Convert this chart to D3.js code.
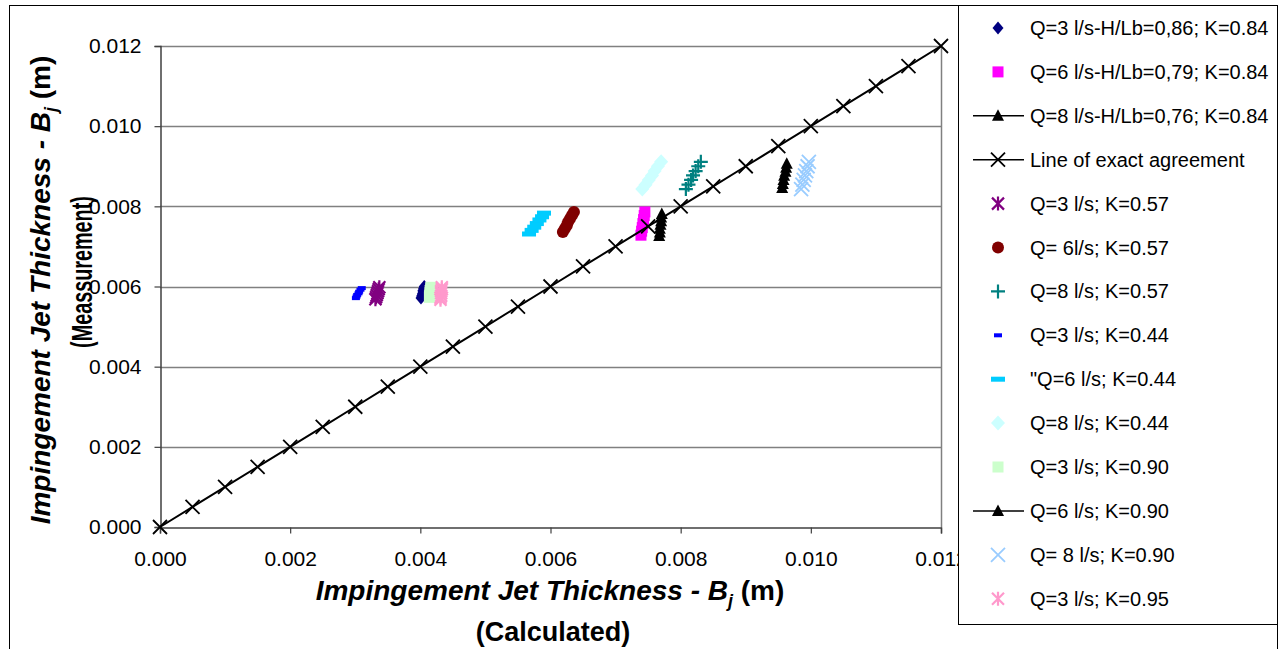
<!DOCTYPE html>
<html>
<head>
<meta charset="utf-8">
<script src="https://cdn.jsdelivr.net/npm/d3@7"></script>
<style>
  body { margin: 0; background: #fff; }
  text { font-family: "Liberation Sans", Arial, sans-serif; }
</style>
</head>
<body>
<div id="chart"></div>
<script>
// values (m)
let xTicks = [0, 0.002, 0.004, 0.006, 0.008, 0.010, 0.012];
let yTicks = [0, 0.002, 0.004, 0.006, 0.008, 0.010, 0.012];

let q3k84x = [0.00401, 0.00402, 0.00403, 0.00404, 0.00404, 0.00405, 0.00406];
let q3k84y = [0.00571, 0.00576, 0.00581, 0.00586, 0.00590, 0.00595, 0.00600];
let q6k84x = [0.00739, 0.00740, 0.00741, 0.00742, 0.00743, 0.00744, 0.00745];
let q6k84y = [0.00728, 0.00738, 0.00747, 0.00757, 0.00767, 0.00777, 0.00786];
let q8k84x = [0.00956, 0.00957, 0.00958, 0.00959, 0.00961, 0.00962, 0.00963];
let q8k84y = [0.00846, 0.00856, 0.00866, 0.00876, 0.00886, 0.00896, 0.00906];
let agreeX = [0, 0.0005, 0.001, 0.0015, 0.002, 0.0025, 0.003, 0.0035, 0.004, 0.0045, 0.005, 0.0055, 0.006,
              0.0065, 0.007, 0.0075, 0.008, 0.0085, 0.009, 0.0095, 0.010, 0.0105, 0.011, 0.0115, 0.012];
let agreeY = [0, 0.0005, 0.001, 0.0015, 0.002, 0.0025, 0.003, 0.0035, 0.004, 0.0045, 0.005, 0.0055, 0.006,
              0.0065, 0.007, 0.0075, 0.008, 0.0085, 0.009, 0.0095, 0.010, 0.0105, 0.011, 0.0115, 0.012];
let q3k57x = [0.00331, 0.00332, 0.00333, 0.00334, 0.00335, 0.00336, 0.00337];
let q3k57y = [0.00568, 0.00573, 0.00578, 0.00583, 0.00588, 0.00593, 0.00598];
let q6k57x = [0.00619, 0.00622, 0.00625, 0.00627, 0.00630, 0.00633, 0.00636];
let q6k57y = [0.00736, 0.00744, 0.00752, 0.00761, 0.00769, 0.00778, 0.00786];
let q8k57x = [0.00808, 0.00812, 0.00816, 0.00819, 0.00823, 0.00827, 0.00831];
let q8k57y = [0.00843, 0.00854, 0.00866, 0.00877, 0.00888, 0.00900, 0.00911];
let q3k44x = [0.00301, 0.00302, 0.00303, 0.00305, 0.00306, 0.00308, 0.00310];
let q3k44y = [0.00571, 0.00575, 0.00579, 0.00583, 0.00587, 0.00592, 0.00596];
let q6k44x = [0.00567, 0.00571, 0.00575, 0.00579, 0.00583, 0.00587, 0.00590];
let q6k44y = [0.00731, 0.00740, 0.00748, 0.00757, 0.00766, 0.00774, 0.00783];
let q8k44x = [0.00741, 0.00746, 0.00751, 0.00756, 0.00760, 0.00765, 0.00770];
let q8k44y = [0.00843, 0.00854, 0.00866, 0.00877, 0.00888, 0.00900, 0.00911];
let q3k90x = [0.00414, 0.00414, 0.00415, 0.00415, 0.00415, 0.00416, 0.00416];
let q3k90y = [0.00573, 0.00577, 0.00581, 0.00585, 0.00590, 0.00594, 0.00598];
let q6k90x = [0.00767, 0.00768, 0.00768, 0.00769, 0.00770, 0.00770, 0.00771];
let q6k90y = [0.00726, 0.00735, 0.00744, 0.00754, 0.00763, 0.00772, 0.00781];
let q8k90x = [0.00985, 0.00987, 0.00989, 0.00991, 0.00993, 0.00995, 0.00997];
let q8k90y = [0.00843, 0.00854, 0.00866, 0.00877, 0.00888, 0.00900, 0.00911];
let q3k95x = [0.00431, 0.00431, 0.00432, 0.00432, 0.00432, 0.00433, 0.00433];
let q3k95y = [0.00567, 0.00572, 0.00577, 0.00583, 0.00588, 0.00593, 0.00598];

let seriesNames = [
  "Q=3 l/s-H/Lb=0,86; K=0.84", "Q=6 l/s-H/Lb=0,79; K=0.84", "Q=8 l/s-H/Lb=0,76; K=0.84",
  "Line of exact agreement", "Q=3 l/s; K=0.57", "Q= 6l/s; K=0.57", "Q=8 l/s; K=0.57",
  "Q=3 l/s; K=0.44", "\"Q=6 l/s; K=0.44", "Q=8 l/s; K=0.44", "Q=3 l/s; K=0.90",
  "Q=6 l/s; K=0.90", "Q= 8 l/s; K=0.90", "Q=3 l/s; K=0.95"
];

let series = [
  { xs: q3k84x, ys: q3k84y, marker: "diamond", color: "#000080", line: false },
  { xs: q6k84x, ys: q6k84y, marker: "square", color: "#ff00ff", line: false },
  { xs: q8k84x, ys: q8k84y, marker: "triangle", color: "#000000", line: true },
  { xs: agreeX, ys: agreeY, marker: "x", color: "#000000", line: true },
  { xs: q3k57x, ys: q3k57y, marker: "star", color: "#800080", line: false },
  { xs: q6k57x, ys: q6k57y, marker: "circle", color: "#800000", line: false },
  { xs: q8k57x, ys: q8k57y, marker: "plus", color: "#008080", line: false },
  { xs: q3k44x, ys: q3k44y, marker: "dashS", color: "#0000ff", line: false },
  { xs: q6k44x, ys: q6k44y, marker: "dashL", color: "#00ccff", line: false },
  { xs: q8k44x, ys: q8k44y, marker: "diamondL", color: "#ccffff", line: false },
  { xs: q3k90x, ys: q3k90y, marker: "square", color: "#ccffcc", line: false },
  { xs: q6k90x, ys: q6k90y, marker: "triangle", color: "#000000", line: true },
  { xs: q8k90x, ys: q8k90y, marker: "x", color: "#99ccff", line: false },
  { xs: q3k95x, ys: q3k95y, marker: "star", color: "#ff99cc", line: false }
];

let svgWidth = 1280;
let svgHeight = 649;

let svg = d3.select("#chart")
  .append("svg")
  .attr("width", svgWidth)
  .attr("height", svgHeight);

// chart area border
svg.append("rect")
  .attr("x", 9.5).attr("y", 5.5)
  .attr("width", 1268).attr("height", 700)
  .attr("fill", "#fff").attr("stroke", "#000");

let xScale = d3.scaleLinear().domain([0, 0.012]).range([160, 941]);
let yScale = d3.scaleLinear().domain([0, 0.012]).range([527, 46]);
let fmt = d3.format(".3f");

// gridlines
svg.append("g")
  .selectAll("line")
  .data(yTicks.slice(1))
  .enter()
  .append("line")
  .attr("x1", xScale(0)).attr("x2", xScale(0.012))
  .attr("y1", d => Math.round(yScale(d)) + 0.5)
  .attr("y2", d => Math.round(yScale(d)) + 0.5)
  .attr("stroke", "#808080")
  .attr("stroke-width", 1.5);

svg.append("line")
  .attr("x1", 941.5).attr("x2", 941.5)
  .attr("y1", yScale(0.012)).attr("y2", yScale(0))
  .attr("stroke", "#808080")
  .attr("stroke-width", 1.5);

let bottomAxis = d3.axisBottom(xScale).tickValues(xTicks).tickFormat(fmt).tickSize(6).tickPadding(18);
let leftAxis = d3.axisLeft(yScale).tickValues(yTicks).tickFormat(fmt).tickSize(6).tickPadding(13);

let gx = svg.append("g")
  .attr("transform", "translate(0, 527.5)")
  .call(bottomAxis);
let gy = svg.append("g")
  .attr("transform", "translate(160.5, 0)")
  .call(leftAxis);

[gx, gy].forEach(g => {
  g.select(".domain").attr("stroke", "#404040").attr("stroke-width", 1.5);
  g.selectAll(".tick line").attr("stroke", "#404040").attr("stroke-width", 1.2);
  g.selectAll(".tick text")
    .attr("fill", "#000")
    .style("font-family", "'Liberation Sans', Arial, sans-serif")
    .style("font-size", "21px");
});

// marker drawing
function drawMarker(sel, type, color) {
  if (type === "diamond") {
    sel.append("path").attr("d", "M0,-6.5L5.5,0L0,6.5L-5.5,0Z").attr("fill", color);
  } else if (type === "diamondL") {
    sel.append("path").attr("d", "M0,-7.5L7,0L0,7.5L-7,0Z").attr("fill", color);
  } else if (type === "square") {
    sel.append("rect").attr("x", -5.5).attr("y", -5.5).attr("width", 11).attr("height", 11).attr("fill", color);
  } else if (type === "triangle") {
    sel.append("path").attr("d", "M0,-6.5L6,5L-6,5Z").attr("fill", color);
  } else if (type === "circle") {
    sel.append("circle").attr("r", 6).attr("fill", color);
  } else if (type === "x") {
    sel.append("path").attr("d", "M-7,-7L7,7M-7,7L7,-7").attr("stroke", color).attr("stroke-width", 1.8).attr("fill", "none");
  } else if (type === "plus") {
    sel.append("path").attr("d", "M-7,0H7M0,-7V7").attr("stroke", color).attr("stroke-width", 2.2).attr("fill", "none");
  } else if (type === "star") {
    sel.append("path").attr("d", "M-6,-6L6,6M-6,6L6,-6M0,-7V7").attr("stroke", color).attr("stroke-width", 2.2).attr("fill", "none");
  } else if (type === "dashS") {
    sel.append("rect").attr("x", -4).attr("y", -2).attr("width", 8).attr("height", 4).attr("fill", color);
  } else if (type === "dashL") {
    sel.append("rect").attr("x", -7).attr("y", -2.5).attr("width", 14).attr("height", 5).attr("fill", color);
  }
}

let lineGen = d3.line().x(d => xScale(d[0])).y(d => yScale(d[1]));

series.forEach(s => {
  let pts = s.xs.map((x, i) => [x, s.ys[i]]);
  let g = svg.append("g");
  if (s.line) {
    g.append("path")
      .datum(pts)
      .attr("d", lineGen)
      .attr("fill", "none")
      .attr("stroke", s.color)
      .attr("stroke-width", 2);
  }
  g.selectAll("g.pt")
    .data(pts)
    .enter()
    .append("g")
    .attr("class", "pt")
    .attr("transform", d => `translate(${xScale(d[0])}, ${yScale(d[1])})`)
    .each(function () { drawMarker(d3.select(this), s.marker, s.color); });
});

// axis titles
let xTitle = svg.append("text")
  .attr("x", 550).attr("y", 600)
  .attr("text-anchor", "middle")
  .style("font-size", "28px").style("font-weight", "bold").style("font-style", "italic");
xTitle.append("tspan").text("Impingement Jet Thickness - B");
xTitle.append("tspan").attr("dy", 7).style("font-size", "18px").text("j");
xTitle.append("tspan").attr("dy", -7).style("font-style", "normal").text(" (m)");

svg.append("text")
  .attr("x", 553).attr("y", 641)
  .attr("text-anchor", "middle")
  .style("font-size", "27px").style("font-weight", "bold")
  .text("(Calculated)");

let yTitle = svg.append("text")
  .attr("transform", "translate(50, 290) rotate(-90)")
  .attr("text-anchor", "middle")
  .style("font-size", "28px").style("font-weight", "bold").style("font-style", "italic");
yTitle.append("tspan").text("Impingement Jet Thickness - B");
yTitle.append("tspan").attr("dy", 7).style("font-size", "18px").text("j");
yTitle.append("tspan").attr("dy", -7).style("font-style", "normal").text(" (m)");

svg.append("text")
  .attr("transform", "translate(92, 272) rotate(-90) scale(0.66, 1)")
  .attr("text-anchor", "middle")
  .style("font-size", "30px").style("font-weight", "bold")
  .text("(Meassurement)");

// legend
let legend = svg.append("g");
legend.append("rect")
  .attr("x", 958.5).attr("y", 5.5)
  .attr("width", 319).attr("height", 619)
  .attr("fill", "#fff").attr("stroke", "#000");

series.forEach((s, i) => {
  let cy = 28 + i * 43.9;
  let row = legend.append("g").attr("transform", `translate(0, ${cy})`);
  if (s.line) {
    row.append("line")
      .attr("x1", 973).attr("x2", 1024).attr("y1", 0).attr("y2", 0)
      .attr("stroke", s.color).attr("stroke-width", 1.5);
  }
  let m = row.append("g").attr("transform", "translate(998, 0)");
  drawMarker(m, s.marker, s.color);
  row.append("text")
    .attr("x", 1030).attr("y", 7)
    .style("font-size", "20px")
    .text(seriesNames[i]);
});
</script>
</body>
</html>
